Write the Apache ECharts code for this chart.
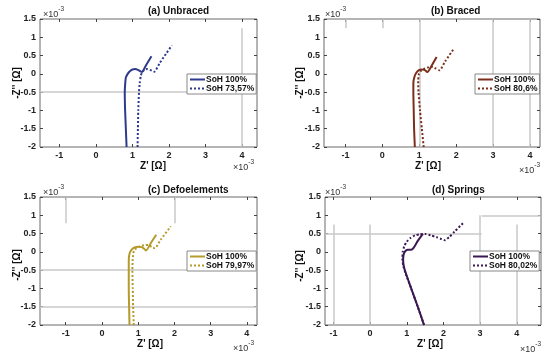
<!DOCTYPE html>
<html><head><meta charset="utf-8">
<script src="https://cdn.jsdelivr.net/npm/echarts@6/dist/echarts.min.js"></script>
<style>html,body{margin:0;padding:0;background:#fff}#c{width:550px;height:357px}</style>
</head><body><div id="c"></div>
<script>
// Values in units of 1e-3 Ω (axes show ×10^-3)
const titles = ['(a) Unbraced', '(b) Braced', '(c) Defoelements', '(d) Springs'];
const solidNames = ['SoH 100%', 'SoH 100%', 'SoH 100%', 'SoH 100%'];
const dottedNames = ['SoH 73,57%', 'SoH 80,6%', 'SoH 79,97%', 'SoH 80,02%'];
const xTickValues = [-1, 0, 1, 2, 3, 4];

// (a) Unbraced
const aSolidX = [0.84, 0.82, 0.80, 0.79, 0.80, 0.82, 0.87, 0.93, 1.00, 1.07, 1.15, 1.22, 1.26, 1.38, 1.52];
const aSolidY = [-2.0, -1.5, -1.0, -0.5, -0.3, -0.1, 0.0, 0.07, 0.12, 0.13, 0.11, 0.07, 0.05, 0.25, 0.48];
const aDotX = [1.14, 1.15, 1.16, 1.18, 1.20, 1.23, 1.27, 1.33, 1.40, 1.48, 1.55, 1.60, 1.75, 1.92, 2.08];
const aDotY = [-2.0, -1.5, -1.0, -0.5, -0.25, -0.05, 0.05, 0.11, 0.13, 0.11, 0.08, 0.06, 0.30, 0.55, 0.78];
// (b) Braced
const bSolidX = [0.88, 0.86, 0.85, 0.84, 0.84, 0.87, 0.92, 0.99, 1.07, 1.14, 1.19, 1.22, 1.35, 1.47];
const bSolidY = [-2.0, -1.5, -1.0, -0.5, -0.25, -0.08, 0.03, 0.10, 0.12, 0.11, 0.07, 0.05, 0.25, 0.46];
const bDotX = [1.12, 1.07, 1.02, 0.98, 0.97, 0.99, 1.04, 1.12, 1.22, 1.32, 1.42, 1.55, 1.70, 1.93];
const bDotY = [-2.0, -1.5, -1.0, -0.5, -0.2, 0.0, 0.08, 0.13, 0.17, 0.20, 0.16, 0.10, 0.34, 0.68];
// (c) Defoelements
const cSolidX = [0.76, 0.75, 0.74, 0.74, 0.74, 0.76, 0.82, 0.90, 1.00, 1.10, 1.17, 1.22, 1.35, 1.50];
const cSolidY = [-2.0, -1.5, -1.0, -0.5, -0.25, -0.05, 0.06, 0.12, 0.14, 0.13, 0.08, 0.04, 0.24, 0.47];
const cDotX = [0.88, 0.86, 0.85, 0.84, 0.85, 0.88, 0.95, 1.05, 1.17, 1.28, 1.38, 1.46, 1.62, 1.90];
const cDotY = [-2.0, -1.5, -1.0, -0.5, -0.2, 0.02, 0.10, 0.15, 0.18, 0.19, 0.13, 0.10, 0.33, 0.70];
// (d) Springs
const dSolidX = [1.47, 1.30, 1.12, 0.98, 0.92, 0.90, 0.92, 0.97, 1.03, 1.12, 1.18, 1.30, 1.44];
const dSolidY = [-2.0, -1.5, -1.0, -0.6, -0.4, -0.2, -0.05, 0.03, 0.06, 0.06, 0.10, 0.30, 0.49];
const dDotX = [1.47, 1.30, 1.12, 0.97, 0.91, 0.88, 0.89, 0.93, 1.00, 1.10, 1.22, 1.35, 1.50, 1.65, 1.82, 1.95, 2.04, 2.15, 2.30, 2.53];
const dDotY = [-2.0, -1.5, -1.0, -0.6, -0.4, -0.2, 0.0, 0.15, 0.28, 0.38, 0.45, 0.48, 0.49, 0.45, 0.40, 0.35, 0.32, 0.40, 0.55, 0.78];

const solidXs = [aSolidX, bSolidX, cSolidX, dSolidX];
const solidYs = [aSolidY, bSolidY, cSolidY, dSolidY];
const dotXs = [aDotX, bDotX, cDotX, dDotX];
const dotYs = [aDotY, bDotY, cDotY, dDotY];

// faint partial grid-line fragments visible in the source figure
const hLinesFull = [[-0.5], [], [-0.5, -1.5], []];
const vLinesFull = [[], [1, 3, 4], [], []];
const segments = [
  [[[4, 1.25], [4, -2]]],
  [[[-1, 1.5], [-1, 1.25]], [[0, 1.5], [0, 1.25]]],
  [[[-1, 1.5], [-1, 0.78]], [[2, 1.5], [2, 0.78]]],
  [[[-1, 0.75], [-1, -2]], [[0, 0.75], [0, -2]], [[3, 1.0], [3, -2]], [[4, 0.75], [4, -2]],
   [[-1.23, 0.5], [3.04, 0.5]], [[3.04, 1.0], [4.66, 1.0]]]
];

const colors = ['#2e3a8c', '#7a2f1c', '#b59b2b', '#3b1852'];
const grids = [
  {left: 40, top: 19, width: 217, height: 128},
  {left: 324, top: 19, width: 216, height: 128},
  {left: 40, top: 197, width: 217, height: 128},
  {left: 325, top: 197, width: 216, height: 128}
];
const xRanges = [[-1.53, 4.41], [-1.58, 4.27], [-1.71, 4.28], [-1.23, 4.66]];
const legendPos = [[187, 74], [475, 74], [187, 251], [470, 251]];
const titlePos = [[148, 6], [431, 6], [148, 185], [432, 185]];
const xNamePos = [[153, 161], [428, 161], [150, 339], [430, 339]];
const yNamePos = [[17, 83], [300, 83], [17, 265], [300, 266]];
const topExpPos = [[43, 5], [325, 5], [43, 183], [325, 183]];
const botExpPos = [[254, 158], [540, 161], [254, 339], [541, 340]];

const FONT = '"Liberation Sans", Arial, sans-serif';
const tickColor = '#444';

const xAxis = [], yAxis = [], series = [], legend = [], graphic = [];
grids.forEach((g, i) => {
  g.show = true; g.borderColor = '#6a6a6a'; g.borderWidth = 1; g.backgroundColor = '#fff';
  xAxis.push({
    type: 'value', gridIndex: i, min: xRanges[i][0], max: xRanges[i][1], position: 'bottom',
    axisLine: {show: false, onZero: false}, splitLine: {show: false},
    axisTick: {show: true, inside: true, length: 3, customValues: xTickValues, lineStyle: {color: tickColor}},
    axisLabel: {customValues: xTickValues, margin: 4, fontFamily: FONT, fontWeight: 'bold', fontSize: 9, color: '#222'}
  });
  xAxis.push({
    type: 'value', gridIndex: i, min: xRanges[i][0], max: xRanges[i][1], position: 'top',
    axisLine: {show: false, onZero: false}, splitLine: {show: false},
    axisTick: {show: true, inside: true, length: 3, customValues: xTickValues, lineStyle: {color: tickColor}},
    axisLabel: {show: false}
  });
  yAxis.push({
    type: 'value', gridIndex: i, min: -2, max: 1.5, interval: 0.5, position: 'left',
    axisLine: {show: false, onZero: false}, splitLine: {show: false},
    axisTick: {show: true, inside: true, length: 3, lineStyle: {color: tickColor}},
    axisLabel: {margin: 4, fontFamily: FONT, fontWeight: 'bold', fontSize: 9, color: '#222'}
  });
  yAxis.push({
    type: 'value', gridIndex: i, min: -2, max: 1.5, interval: 0.5, position: 'right',
    axisLine: {show: false, onZero: false}, splitLine: {show: false},
    axisTick: {show: true, inside: true, length: 3, lineStyle: {color: tickColor}},
    axisLabel: {show: false}
  });
  const pad = ' '.repeat(i);
  const sName = solidNames[i] + pad;
  const dName = dottedNames[i];
  const mlData = [];
  hLinesFull[i].forEach(v => mlData.push({yAxis: v}));
  vLinesFull[i].forEach(v => mlData.push({xAxis: v}));
  segments[i].forEach(s => mlData.push([{coord: s[0]}, {coord: s[1]}]));
  series.push({
    type: 'line', name: sName, xAxisIndex: 2 * i, yAxisIndex: 2 * i,
    data: solidXs[i].map((x, k) => [x, solidYs[i][k]]),
    symbol: 'none', smooth: 0.2, color: colors[i],
    lineStyle: {width: 2, color: colors[i], type: 'solid'}, z: 3,
    markLine: {silent: true, symbol: 'none', label: {show: false}, animation: false, z: 1,
      lineStyle: {color: '#c9c9c9', width: 1.5, type: 'solid'}, emphasis: {disabled: true}, data: mlData}
  });
  series.push({
    type: 'line', name: dName, xAxisIndex: 2 * i, yAxisIndex: 2 * i,
    data: dotXs[i].map((x, k) => [x, dotYs[i][k]]),
    symbol: 'none', smooth: 0.2, color: colors[i],
    lineStyle: {width: 2, color: colors[i], type: [2, 2]}, z: 3
  });
  legend.push({
    data: [sName, dName], orient: 'vertical', left: legendPos[i][0], top: legendPos[i][1],
    itemGap: 0, itemWidth: 15, itemHeight: 9, padding: [1, 2, 1, 2],
    backgroundColor: '#fff', borderColor: '#888', borderWidth: 1, borderRadius: 0,
    formatter: n => n.trim(), selectedMode: false,
    itemStyle: {color: 'rgba(0,0,0,0)', borderColor: 'rgba(0,0,0,0)', borderWidth: 0, opacity: 0},
    textStyle: {fontFamily: FONT, fontWeight: 'bold', fontSize: 8.5, lineHeight: 9, color: '#111', padding: [0, 0, 0, -4]}
  });
  graphic.push({type: 'text', left: titlePos[i][0], top: titlePos[i][1],
    style: {text: titles[i], font: 'bold 10px ' + FONT, fill: '#111', textAlign: 'center'}});
  graphic.push({type: 'text', x: xNamePos[i][0], y: xNamePos[i][1],
    style: {text: "Z' [Ω]", font: 'bold 10px ' + FONT, fill: '#111', align: 'center'}});
  graphic.push({type: 'text', x: yNamePos[i][0], y: yNamePos[i][1], rotation: Math.PI / 2,
    style: {text: "-Z'' [Ω]", font: 'bold 10px ' + FONT, fill: '#111', align: 'center', verticalAlign: 'middle'}});
  const expRich = {a: {fontFamily: FONT, fontSize: 9, fill: '#333', padding: [5, 0, 0, 0]}, b: {fontFamily: FONT, fontSize: 6.5, fill: '#333', padding: [0, 0, 5, 0]}};
  graphic.push({type: 'text', x: topExpPos[i][0], y: topExpPos[i][1],
    style: {text: '{a|×10}{b|-3}', rich: expRich, align: 'left'}});
  graphic.push({type: 'text', x: botExpPos[i][0], y: botExpPos[i][1],
    style: {text: '{a|×10}{b|-3}', rich: expRich, align: 'right'}});
});

const chart = echarts.init(document.getElementById('c'), null, {renderer: 'canvas'});
chart.setOption({
  animation: false, backgroundColor: '#fff',
  grid: grids, xAxis, yAxis, series, legend, graphic
});
</script></body></html>
